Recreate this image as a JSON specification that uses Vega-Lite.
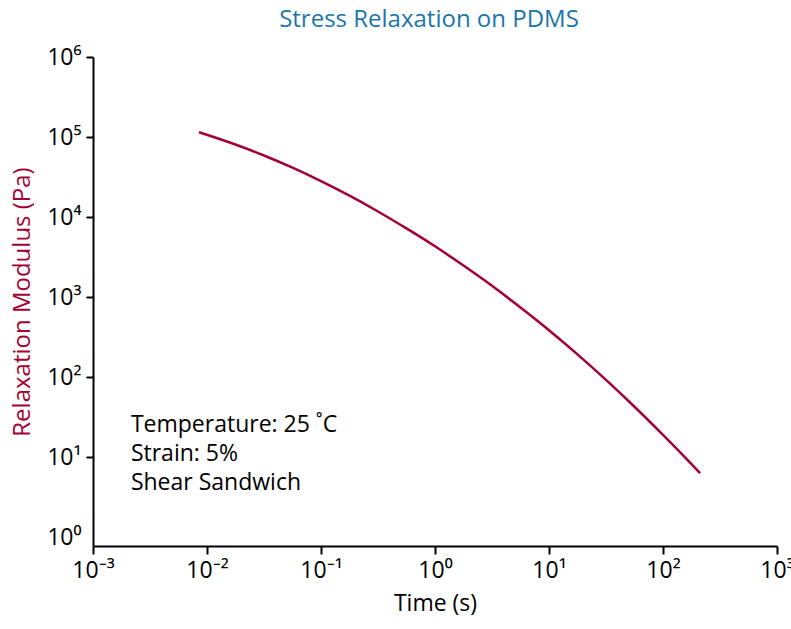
{
  "$schema": "https://vega.github.io/schema/vega-lite/v6.json",
  "autosize": {"type": "none"},
  "width": 684,
  "height": 489,
  "padding": {"left": 93, "top": 57, "right": 14, "bottom": 83},
  "background": "white",
  "config": {
    "view": {"stroke": null},
    "font": "Open Sans",
    "axis": {"grid": false, "domainColor": "black", "domainWidth": 2, "tickColor": "black", "tickWidth": 2, "labelColor": "black", "labelFont": "Open Sans", "titleFont": "Open Sans", "titleFontWeight": "normal"}
  },
  "title": {"text": "Stress Relaxation on PDMS", "color": "#1b76ad", "fontSize": 24, "fontWeight": "normal", "font": "Open Sans", "anchor": "middle", "offset": 14, "dx": -6},
  "datasets": {
    "curve": [
      {"t": 0.00851, "G": 114800},
      {"t": 0.01778, "G": 80500},
      {"t": 0.03162, "G": 58700},
      {"t": 0.05623, "G": 41330},
      {"t": 0.1, "G": 28120},
      {"t": 0.1778, "G": 18480},
      {"t": 0.3162, "G": 11730},
      {"t": 0.5623, "G": 7196},
      {"t": 1.0, "G": 4300},
      {"t": 1.778, "G": 2470},
      {"t": 3.162, "G": 1380},
      {"t": 5.623, "G": 740},
      {"t": 10, "G": 385},
      {"t": 17.78, "G": 192},
      {"t": 31.62, "G": 92},
      {"t": 56.23, "G": 42.5},
      {"t": 100, "G": 18.9},
      {"t": 177.8, "G": 8.15},
      {"t": 211.3, "G": 6.3}
    ],
    "note": [
      {"t": 0.00215, "G": 25, "label": ["Temperature: 25 ˚C", "Strain: 5%", "Shear Sandwich"]}
    ]
  },
  "layer": [
    {
      "data": {"name": "curve"},
      "mark": {"type": "line", "color": "#a50034", "strokeWidth": 2.5, "interpolate": "monotone"},
      "encoding": {
        "x": {"field": "t", "type": "quantitative",
          "scale": {"type": "log", "domain": [0.001, 1000], "nice": false},
          "axis": {"title": "Time (s)", "titleFontSize": 23, "titleColor": "black", "titlePadding": 10,
            "values": [0.001, 0.01, 0.1, 1, 10, 100, 1000], "tickSize": 8, "labelFontSize": 23, "labelPadding": 5, "labelFlush": false,
            "labelExpr": "datum.value < 0.005 ? '10⁻³' : datum.value < 0.05 ? '10⁻²' : datum.value < 0.5 ? '10⁻¹' : datum.value < 5 ? '10⁰' : datum.value < 50 ? '10¹' : datum.value < 500 ? '10²' : '10³'"}},
        "y": {"field": "G", "type": "quantitative",
          "scale": {"type": "log", "domain": [0.772, 1000000], "nice": false},
          "axis": {"title": "Relaxation Modulus (Pa)", "titleFontSize": 24, "titleColor": "#a50034", "titlePadding": 12,
            "values": [1, 10, 100, 1000, 10000, 100000, 1000000], "tickSize": 7, "labelFontSize": 23, "labelPadding": 5, "labelBaseline": "middle", "labelFlush": false,
            "tickOpacity": {"condition": {"test": "datum.value < 2", "value": 0}, "value": 1},
            "labelExpr": "datum.value < 5 ? '10⁰' : datum.value < 50 ? '10¹' : datum.value < 500 ? '10²' : datum.value < 5000 ? '10³' : datum.value < 50000 ? '10⁴' : datum.value < 500000 ? '10⁵' : '10⁶'"}}
      }
    },
    {
      "mark": {"type": "rule", "color": "black", "strokeWidth": 2},
      "encoding": {"x": {"datum": 1000}}
    },
    {
      "data": {"name": "note"},
      "mark": {"type": "text", "align": "left", "baseline": "middle", "fontSize": 23, "lineHeight": 29, "color": "black", "font": "Open Sans"},
      "encoding": {
        "x": {"field": "t", "type": "quantitative"},
        "y": {"field": "G", "type": "quantitative"},
        "text": {"field": "label"}
      }
    }
  ]
}
